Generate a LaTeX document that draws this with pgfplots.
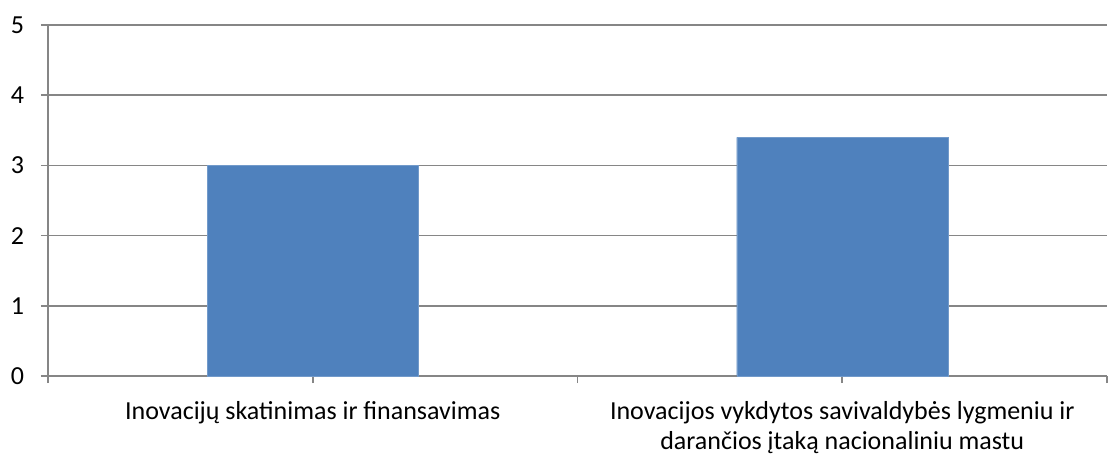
\documentclass[border=0pt]{standalone}
\usepackage{fontspec}
\setmainfont{Carlito}
\usepackage{pgfplots}
\pgfplotsset{compat=1.18}
\definecolor{barblue}{HTML}{4F81BD}
\definecolor{gridgray}{HTML}{868686}
\begin{document}
\fontsize{26}{29.5}\selectfont
\begin{tikzpicture}
\path[use as bounding box] (-48pt,-79pt) rectangle (1064pt,376pt);
\begin{axis}[
  at={(0pt,0pt)}, anchor=south west,
  scale only axis,
  width=1059pt, height=351pt,
  xmin=-0.5, xmax=1.5,
  ymin=0, ymax=5,
  ytick={0,1,2,3,4,5},
  xtick={-0.5,0,0.5,1,1.5},
  xticklabels={,{Inovacijų skatinimas ir finansavimas},,{Inovacijos vykdytos savivaldybės lygmeniu ir\\darančios įtaką nacionaliniu mastu},},
  xticklabel style={align=center, font=\fontsize{26}{29.5}\selectfont, yshift=-10pt},
  yticklabel style={font=\fontsize{26}{29.5}\selectfont, xshift=-8pt},
  /pgf/number format/assume math mode=true,
  axis lines=left,
  axis line style={-, draw=gridgray, line width=1.6pt},
  ymajorgrids,
  grid style={draw=gridgray, line width=1.6pt},
  tick style={draw=gridgray, line width=1.6pt},
  tick align=outside,
  major tick length=7pt,
  clip=false,
]
\addplot[ybar, bar width=211pt, fill=barblue, draw=barblue!80!white] coordinates {(0,3) (1,3.4)};
\end{axis}
\end{tikzpicture}
\end{document}
